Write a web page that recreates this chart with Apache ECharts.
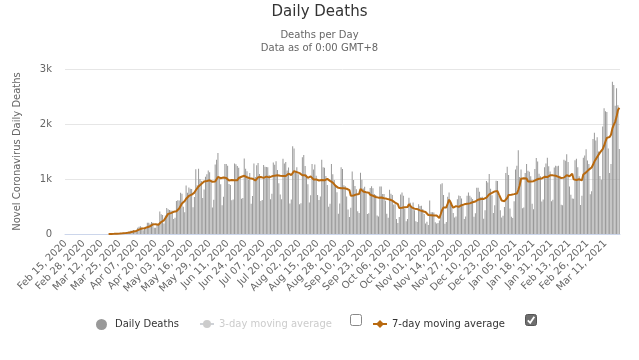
<!DOCTYPE html>
<html><head><meta charset="utf-8">
<script src="https://cdn.jsdelivr.net/npm/echarts@6/dist/echarts.min.js"></script>
<style>html,body{margin:0;padding:0;background:#fff}#c{width:639px;height:360px}</style>
</head><body><div id="c"></div>
<script>
// ---- data: daily deaths, one value per day starting Feb 15, 2020 ----
const startYear = 2020, startMonth = 1, startDay = 15; // Feb 15, 2020
const tickLabels = ['Feb 15, 2020','Feb 28, 2020','Mar 12, 2020','Mar 25, 2020','Apr 07, 2020','Apr 20, 2020','May 03, 2020','May 16, 2020','May 29, 2020','Jun 11, 2020','Jun 24, 2020','Jul 07, 2020','Jul 20, 2020','Aug 02, 2020','Aug 15, 2020','Aug 28, 2020','Sep 10, 2020','Sep 23, 2020','Oct 06, 2020','Oct 19, 2020','Nov 01, 2020','Nov 14, 2020','Nov 27, 2020','Dec 10, 2020','Dec 23, 2020','Jan 05, 2021','Jan 18, 2021','Jan 31, 2021','Feb 13, 2021','Feb 26, 2021','Mar 11, 2021'];
const yTicks = [0, 1000, 2000, 3000];

const deathsFebMar2020 = [0,0,0,0,0,0,0,0,0,0,0,0,0,0,0, 0,0,0,0,0,0,0,0,0,0,0,0,0,0,0,0, 1,3,2,5,7,7,9,12,11,20,15,22,22,23,42];
const deathsApr2020 = [40,58,60,73,54,67,114,133,141,115,68,99,105,204,204,188,217,206,115,113,166,165,407,357,346,189,338,474,449,435];
const deathsMay2020 = [428,421,275,296,600,615,610,751,730,496,396,881,749,844,824,816,485,674,1179,888,1188,1001,965,653,807,1039,1086,1156,1124,956,480];
const deathsJun2020 = [623,1262,1349,1473,1005,904,525,679,1272,1274,1239,909,892,612,627,1282,1269,1238,1206,1022,641,654,1374,1185,1141,990,1109,552,692,1280];
const deathsJul2020 = [1038,1252,1290,1091,602,620,1254,1223,1220,1214,1071,631,733,1300,1261,1322,1163,921,716,632,1367,1284,1311,1156,1211,555,627,1595,1554,1129,1212];
const deathsAug2020 = [1088,541,561,1394,1437,1237,1079,905,572,703,1274,1175,1262,1060,709,620,684,1352,1212,1204,1054,892,494,551,1271,1085,984,855,758,366,553];
const deathsSep2020 = [1215,1184,888,870,682,447,310,476,1136,983,874,815,415,381,1113,987,829,858,739,363,377,836,869,831,729,708,335,317,863,863];
const deathsOct2020 = [729,728,606,366,297,804,734,710,538,541,275,201,309,716,754,695,461,230,271,660,566,497,571,432,233,220,542,510,513,455,363];
const deathsNov2020 = [190,224,162,611,394,396,389,214,193,201,244,906,921,709,188,216,676,754,608,511,383,302,316,630,698,691,645,521,272,317];
const deathsDec2020 = [697,755,694,664,637,313,376,842,839,770,672,679,279,433,964,936,1092,823,706,382,523,968,963,692,431,301,334,489,1111,1224,1074];
const deathsJan2021 = [462,314,293,595,1171,1242,1524,1035,1171,469,483,1110,1274,1151,1131,1050,551,452,1183,1382,1316,1096,1050,592,627,1214,1283,1386,1230,1136,595];
const deathsFeb2021 = [621,1209,1239,1232,1239,1060,533,525,1350,1330,1452,1308,862,713,647,639,1340,1367,1212,1051,527,697,1386,1428,1541,1337,1275,721];
const deathsMar2021 = [778,1726,1840,1699,1760,1498,1054,987,1954,2286,2233,2216,1555,1111,1275,2770,2710,2330,2650,2340,1545];

// ---- 7-day moving average, starting Mar 17, 2020 ----
const ma7Mar2020 = [0.1,0.6,0.9,1.6,2.6,3.6,4.9,6.4,7.6,10.1,11.6,13.7,15.9,17.9,22.1];
const ma7Apr2020 = [26,32,38,45,50,56,67,80,92,100,99,105,111,124,134,140,155,175,177,178,173,167,198,218,238,249,281,325,366,370];
const ma7May2020 = [380,391,403,397,415,439,464,510,554,585,600,640,659,692,703,715,714,753,796,816,865,890,911,935,954,934,963,958,976,974,950];
const ma7Jun2020 = [923,955,993,1038,1021,1014,1020,1028,1030,1019,985,972,970,982,975,976,976,976,1018,1037,1041,1045,1058,1046,1032,1001,1013,1001,1006,993];
const ma7Jul2020 = [972,988,1030,1028,1035,1025,1021,1047,1043,1032,1029,1033,1049,1056,1061,1076,1069,1047,1059,1045,1055,1058,1056,1055,1097,1074,1073,1106,1144,1118,1126];
const ma7Aug2020 = [1109,1107,1097,1068,1052,1067,1048,1022,1026,1047,1030,992,996,993,965,972,969,980,986,977,976,1003,985,966,954,936,904,876,857,839,839];
const ma7Sep2020 = [831,845,831,833,823,834,799,694,687,701,701,720,716,726,817,795,773,771,760,753,752,713,696,696,678,673,669,661,665,664];
const ma7Oct2020 = [649,649,634,639,636,628,609,606,579,570,557,543,473,470,476,499,487,481,491,541,520,483,465,461,461,454,437,429,432,415,405];
const ma7Nov2020 = [399,400,345,360,343,334,338,341,337,343,290,363,438,484,480,484,551,624,582,523,477,493,507,501,493,504,524,543,539,539];
const ma7Dec2020 = [549,557,557,560,577,582,591,612,624,634,636,642,637,645,662,676,722,744,748,762,775,776,780,722,666,609,602,597,617,655,709];
const ma7Jan2021 = [714,715,710,725,733,736,800,882,1004,1030,1014,1005,1009,956,970,953,964,960,970,986,1009,1004,1004,1010,1035,1040,1025,1035,1055,1067,1067];
const ma7Feb2021 = [1066,1066,1059,1037,1039,1028,1019,1005,1025,1038,1070,1080,1051,1077,1095,993,994,982,969,996,969,976,1083,1095,1120,1138,1170,1198];
const ma7Mar2021 = [1209,1258,1317,1339,1400,1432,1479,1509,1542,1605,1682,1747,1755,1763,1804,1920,1985,2040,2130,2250,2296];
const ma7LeadingDays = 31; // Feb 15 - Mar 16, 2020: no average drawn

const dailyDeaths = [].concat(deathsFebMar2020, deathsApr2020, deathsMay2020, deathsJun2020, deathsJul2020, deathsAug2020, deathsSep2020, deathsOct2020, deathsNov2020, deathsDec2020, deathsJan2021, deathsFeb2021, deathsMar2021);
const ma7 = new Array(ma7LeadingDays).fill(null).concat(ma7Mar2020, ma7Apr2020, ma7May2020, ma7Jun2020, ma7Jul2020, ma7Aug2020, ma7Sep2020, ma7Oct2020, ma7Nov2020, ma7Dec2020, ma7Jan2021, ma7Feb2021, ma7Mar2021);

const MONTHS = ['Jan','Feb','Mar','Apr','May','Jun','Jul','Aug','Sep','Oct','Nov','Dec'];
const categories = dailyDeaths.map((_, i) => {
  const d = new Date(Date.UTC(startYear, startMonth, startDay + i));
  return MONTHS[d.getUTCMonth()] + ' ' + String(d.getUTCDate()).padStart(2, '0') + ', ' + d.getUTCFullYear();
});

const FONT = 'DejaVu Sans';
const chart = echarts.init(document.getElementById('c'), null, {renderer: 'canvas'});
chart.setOption({
  animation: false,
  backgroundColor: '#fff',
  textStyle: {fontFamily: FONT},
  title: {
    text: 'Daily Deaths',
    subtext: 'Deaths per Day\nData as of 0:00 GMT+8',
    left: 'center', top: 0, itemGap: 9,
    textStyle: {fontFamily: FONT, fontSize: 15, fontWeight: 'normal', color: '#333'},
    subtextStyle: {fontFamily: FONT, fontSize: 10, color: '#666', lineHeight: 13}
  },
  grid: {left: 65, right: 19, top: 69, bottom: 126, containLabel: false},
  xAxis: {
    type: 'category', data: categories, boundaryGap: true,
    axisLine: {lineStyle: {color: '#ccd6eb'}},
    axisTick: {show: false},
    axisLabel: {
      interval: (idx, val) => tickLabels.indexOf(val) >= 0,
      rotate: 45, margin: 8, fontSize: 10, color: '#666', fontFamily: FONT
    }
  },
  yAxis: {
    type: 'value', min: yTicks[0], max: yTicks[yTicks.length - 1], interval: 1000,
    name: 'Novel Coronavirus Daily Deaths', nameLocation: 'middle', nameGap: 43,
    nameTextStyle: {fontSize: 10, color: '#666', fontFamily: FONT},
    axisLine: {show: false}, axisTick: {show: false},
    splitLine: {lineStyle: {color: '#e6e6e6'}},
    axisLabel: {
      margin: 13, fontSize: 10, color: '#666', fontFamily: FONT,
      formatter: v => v === 0 ? '0' : (v / 1000) + 'k'
    }
  },
  legend: [
    {data: [{name: 'Daily Deaths', icon: 'circle'}], left: 91, top: 314, itemWidth: 11, itemHeight: 11,
     textStyle: {fontSize: 10, color: '#333', padding: [0, 0, 0, 3]}},
    {data: ['3-day moving average'], left: 194, top: 314, itemWidth: 14, itemHeight: 10,
     selected: {'3-day moving average': false}, inactiveColor: '#ccc',
     textStyle: {fontSize: 10, color: '#333'}},
    {data: ['7-day moving average'], left: 367, top: 314, itemWidth: 14, itemHeight: 10,
     textStyle: {fontSize: 10, color: '#333'}}
  ],
  graphic: [
    {type: 'rect', shape: {x: 350.5, y: 314.5, width: 11, height: 11, r: 2},
     style: {fill: '#fff', stroke: '#888', lineWidth: 1}},
    {type: 'rect', shape: {x: 525.5, y: 314.5, width: 11, height: 11, r: 2},
     style: {fill: '#6e6e6e', stroke: '#555', lineWidth: 1}},
    {type: 'polyline', shape: {points: [[527.8, 320.3], [530.2, 322.8], [534.3, 316.8]]},
     style: {stroke: '#fff', lineWidth: 1.8, fill: null}}
  ],
  series: [
    {name: 'Daily Deaths', type: 'bar', data: dailyDeaths, barWidth: 0.7,
     itemStyle: {color: '#999'}, emphasis: {disabled: true}},
    {name: '3-day moving average', type: 'line', data: [], symbol: 'circle', symbolSize: 6,
     itemStyle: {color: '#bbb'}},
    {name: '7-day moving average', type: 'line', data: ma7, showSymbol: false, symbol: 'diamond', symbolSize: 7,
     itemStyle: {color: '#b8690f'}, lineStyle: {color: '#b8690f', width: 2}, z: 5, connectNulls: false}
  ]
});
</script></body></html>
